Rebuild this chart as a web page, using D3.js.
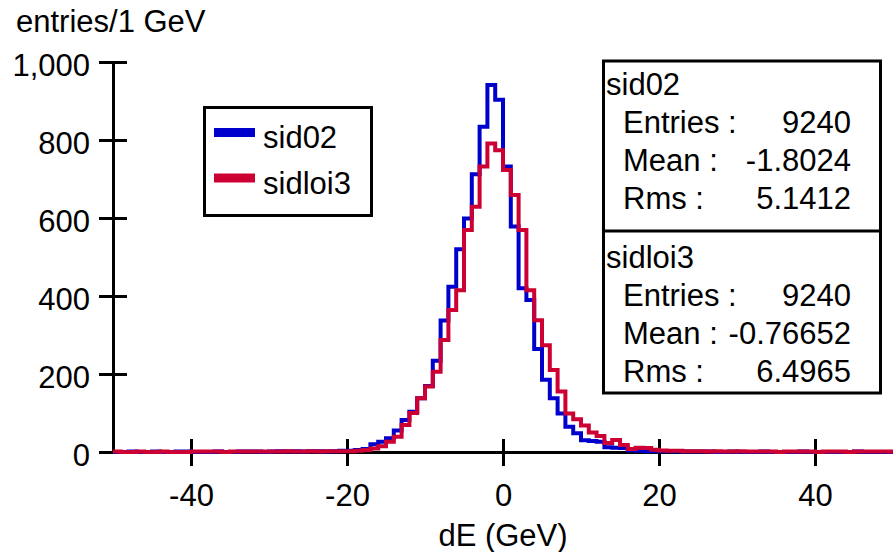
<!DOCTYPE html>
<html>
<head>
<meta charset="utf-8">
<script src="https://cdn.jsdelivr.net/npm/d3@7"></script>
<style>
  body { margin: 0; background: #fff; }
  svg text { font-family: "Liberation Sans", Arial, sans-serif; fill: #000; }
</style>
</head>
<body>
<div id="chart"></div>
<script>
// bin low edges, 1 GeV wide, from -50 to 49
let binLow = d3.range(-50, 50);

// entries per bin
let sid02 = [
  0, 0, 1, 0, 0, 1, 0, 0, 1, 1,
  0, 0, 0, 1, 0, 0, 1, 1, 1, 0,
  1, 2, 1, 2, 1, 2, 2, 1, 2, 3,
  3, 5, 8, 20, 26, 35, 55, 82, 103, 138,
  169, 234, 337, 424, 520, 599, 712, 834, 941, 903,
  732, 578, 420, 390, 264, 185, 138, 99, 65, 48,
  30, 28, 26, 12, 11, 10, 4, 3, 2, 2,
  2, 2, 1, 1, 1, 1, 1, 0, 0, 1,
  0, 0, 0, 1, 0, 0, 0, 0, 1, 0,
  0, 0, 0, 0, 0, 1, 0, 0, 0, 0
];
let sidloi3 = [
  1, 0, 0, 1, 0, 0, 1, 0, 0, 0,
  1, 1, 1, 1, 0, 1, 1, 1, 1, 1,
  1, 1, 2, 1, 1, 2, 1, 2, 2, 2,
  2, 3, 5, 9, 15, 26, 39, 69, 100, 138,
  168, 206, 287, 364, 415, 569, 629, 732, 791, 774,
  723, 659, 569, 415, 338, 274, 210, 155, 99, 84,
  68, 50, 41, 23, 31, 18, 8, 11, 10, 6,
  4, 3, 3, 2, 2, 2, 1, 2, 1, 1,
  2, 1, 1, 1, 1, 0, 1, 1, 1, 1,
  0, 1, 1, 1, 0, 1, 1, 1, 1, 1
];

let seriesNames = ["sid02", "sidloi3"];
let seriesColors = ["#0000cc", "#cc0033"];

let statLabels = ["Entries :", "Mean :", "Rms :"];
let statsSid02 = ["9240", "-1.8024", "5.1412"];
let statsSidloi3 = ["9240", "-0.76652", "6.4965"];

let xTicks = [-40, -20, 0, 20, 40];
let yTicks = [0, 200, 400, 600, 800, 1000];

let width = 893, height = 552;
let fontSize = 31;

let svg = d3.select("#chart")
  .append("svg")
  .attr("width", width)
  .attr("height", height);

let x = d3.scaleLinear().domain([-50, 50]).range([113, 893]);
let y = d3.scaleLinear().domain([0, 1000]).range([452, 62]);

// x axis
let xAxis = svg.append("g")
  .attr("transform", "translate(0," + y(0) + ")")
  .call(d3.axisBottom(x)
    .tickValues(xTicks)
    .tickSizeInner(14)
    .tickSizeOuter(0)
    .tickPadding(18)
    .tickFormat(function (d) { return String(d); }));
xAxis.selectAll("line").attr("y1", -13).attr("stroke-width", 3);
xAxis.select(".domain").attr("stroke-width", 3);
xAxis.selectAll("text").style("font-size", fontSize + "px").attr("fill", "#000");

// y axis
let yAxis = svg.append("g")
  .attr("transform", "translate(" + x(-50) + ",0)")
  .call(d3.axisLeft(y)
    .tickValues(yTicks)
    .tickSizeInner(14)
    .tickSizeOuter(0)
    .tickPadding(9)
    .tickFormat(d3.format(",")));
yAxis.selectAll("line").attr("x1", 14).attr("stroke-width", 3);
yAxis.select(".domain").attr("stroke-width", 3);
yAxis.selectAll("text")
  .attr("dy", "0.42em")
  .style("font-size", fontSize + "px")
  .attr("fill", "#000");

// axis titles
svg.append("text")
  .attr("x", 16)
  .attr("y", 32)
  .style("font-size", fontSize + "px")
  .text("entries/1 GeV");

svg.append("text")
  .attr("x", 503)
  .attr("y", 546)
  .style("text-anchor", "middle")
  .style("font-size", fontSize + "px")
  .text("dE (GeV)");

// histograms as step outlines
let step = d3.line()
  .x(function (d) { return x(d[0]); })
  .y(function (d) { return y(d[1]); })
  .curve(d3.curveStepAfter);

[sid02, sidloi3].forEach(function (vals, i) {
  let pts = binLow.map(function (b, j) { return [b, vals[j]]; });
  pts.push([binLow[binLow.length - 1] + 1, vals[vals.length - 1]]);
  svg.append("path")
    .datum(pts)
    .attr("fill", "none")
    .attr("stroke", seriesColors[i])
    .attr("stroke-width", 4)
    .attr("d", step);
});

// legend
let legend = svg.append("g");
legend.append("rect")
  .attr("x", 204.5).attr("y", 107.5)
  .attr("width", 167).attr("height", 108)
  .attr("fill", "#fff").attr("stroke", "#000").attr("stroke-width", 3);
seriesNames.forEach(function (name, i) {
  legend.append("rect")
    .attr("x", 214).attr("y", 128 + i * 45.5)
    .attr("width", 41).attr("height", 9)
    .attr("fill", seriesColors[i]);
  legend.append("text")
    .attr("x", 263).attr("y", 148 + i * 45.5)
    .style("font-size", fontSize + "px")
    .text(name);
});

// statistics box
let stats = svg.append("g");
stats.append("rect")
  .attr("x", 603.5).attr("y", 61)
  .attr("width", 277).attr("height", 332)
  .attr("fill", "#fff").attr("stroke", "#000").attr("stroke-width", 3);
stats.append("line")
  .attr("x1", 603.5).attr("x2", 880.5)
  .attr("y1", 231).attr("y2", 231)
  .attr("stroke", "#000").attr("stroke-width", 3);

[statsSid02, statsSidloi3].forEach(function (vals, i) {
  let top = 95 + i * 173;
  stats.append("text")
    .attr("x", 606).attr("y", top)
    .style("font-size", fontSize + "px")
    .text(seriesNames[i]);
  statLabels.forEach(function (lab, j) {
    stats.append("text")
      .attr("x", 623).attr("y", top + 38 * (j + 1))
      .style("font-size", fontSize + "px")
      .text(lab);
    stats.append("text")
      .attr("x", 851).attr("y", top + 38 * (j + 1))
      .style("text-anchor", "end")
      .style("font-size", fontSize + "px")
      .text(vals[j]);
  });
});
</script>
</body>
</html>
